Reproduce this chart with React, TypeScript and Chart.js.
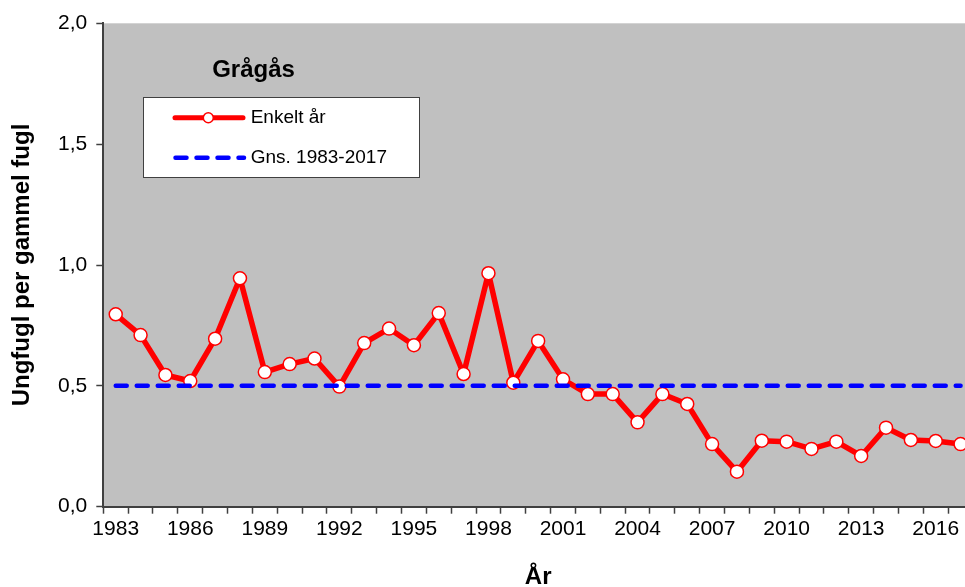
import { useEffect, useRef } from "react";
import { Chart, registerables } from "chart.js";

Chart.register(...registerables);

const years = [
  "1983", "1984", "1985", "1986", "1987", "1988", "1989", "1990", "1991", "1992",
  "1993", "1994", "1995", "1996", "1997", "1998", "1999", "2000", "2001", "2002",
  "2003", "2004", "2005", "2006", "2007", "2008", "2009", "2010", "2011", "2012",
  "2013", "2014", "2015", "2016", "2017",
];

const enkeltAar = [
  0.796, 0.71, 0.545, 0.52, 0.695, 0.945, 0.557, 0.59, 0.613, 0.497,
  0.677, 0.737, 0.668, 0.801, 0.549, 0.966, 0.513, 0.686, 0.527, 0.466,
  0.466, 0.349, 0.466, 0.425, 0.259, 0.145, 0.273, 0.269, 0.239, 0.269,
  0.21, 0.327, 0.276, 0.272, 0.259,
];

const gjennomsnitt = [
  0.5, 0.5, 0.5, 0.5, 0.5, 0.5, 0.5, 0.5, 0.5, 0.5,
  0.5, 0.5, 0.5, 0.5, 0.5, 0.5, 0.5, 0.5, 0.5, 0.5,
  0.5, 0.5, 0.5, 0.5, 0.5, 0.5, 0.5, 0.5, 0.5, 0.5,
  0.5, 0.5, 0.5, 0.5, 0.5,
];

const xTickLabels = [
  "1983", "1986", "1989", "1992", "1995", "1998", "2001", "2004", "2007", "2010", "2013", "2016",
];

const chartTitle = "Grågås";
const seriesNames = ["Enkelt år", "Gns. 1983-2017"];
const xTitle = "År";
const yTitle = "Ungfugl per gammel fugl";

const FONT = '"Liberation Sans", Arial, Helvetica, sans-serif';
const AXIS = "#404040";

export default function App() {
  const ref = useRef<HTMLCanvasElement>(null);

  useEffect(() => {
    const canvas = ref.current;
    if (!canvas) return;

    const overlay = {
      id: "overlay",
      beforeDraw(chart: any) {
        const { ctx, chartArea } = chart;
        ctx.save();
        ctx.fillStyle = "#C0C0C0";
        ctx.fillRect(chartArea.left, chartArea.top, chartArea.right - chartArea.left, chartArea.bottom - chartArea.top);
        ctx.restore();
      },
      afterDraw(chart: any) {
        const { ctx } = chart;
        ctx.save();
        ctx.fillStyle = "#000";
        ctx.font = `bold 24px ${FONT}`;
        ctx.textAlign = "center";
        ctx.textBaseline = "alphabetic";
        ctx.fillText(chartTitle, 253.5, 77.3);

        ctx.fillStyle = "#FFFFFF";
        ctx.fillRect(143.5, 97.5, 276, 80);
        ctx.strokeStyle = AXIS;
        ctx.lineWidth = 1;
        ctx.strokeRect(143.5, 97.5, 276, 80);

        const y1 = 117.7;
        ctx.strokeStyle = "#FF0000";
        ctx.lineWidth = 5;
        ctx.lineCap = "round";
        ctx.beginPath();
        ctx.moveTo(175, y1);
        ctx.lineTo(243, y1);
        ctx.stroke();
        ctx.beginPath();
        ctx.arc(208.3, y1, 5, 0, Math.PI * 2);
        ctx.fillStyle = "#FFFFFF";
        ctx.fill();
        ctx.lineWidth = 1.5;
        ctx.stroke();

        const y2 = 157.7;
        ctx.strokeStyle = "#0000FF";
        ctx.lineWidth = 4.5;
        ctx.setLineDash([11, 10]);
        ctx.beginPath();
        ctx.moveTo(175.5, y2);
        ctx.lineTo(244, y2);
        ctx.stroke();
        ctx.setLineDash([]);

        ctx.fillStyle = "#000";
        ctx.font = `19px ${FONT}`;
        ctx.textAlign = "left";
        ctx.textBaseline = "middle";
        ctx.fillText(seriesNames[0], 250.7, y1);
        ctx.fillText(seriesNames[1], 250.7, y2);
        ctx.restore();
      },
    };

    const chart = new Chart(canvas, {
      type: "line",
      data: {
        labels: years,
        datasets: [
          {
            label: seriesNames[1],
            data: gjennomsnitt,
            borderColor: "#0000FF",
            borderWidth: 4.5,
            borderDash: [11, 10],
            borderCapStyle: "round",
            pointRadius: 0,
            pointHoverRadius: 0,
            fill: false,
            order: 0,
          },
          {
            label: seriesNames[0],
            data: enkeltAar,
            borderColor: "#FF0000",
            borderWidth: 5.5,
            borderJoinStyle: "round",
            pointRadius: 6.5,
            pointBorderWidth: 1.5,
            pointBackgroundColor: "#FFFFFF",
            pointBorderColor: "#FF0000",
            tension: 0,
            fill: false,
            order: 1,
          },
        ],
      },
      options: {
        animation: false,
        responsive: false,
        maintainAspectRatio: false,
        devicePixelRatio: 1,
        layout: { padding: { top: 23.3, left: 0, right: 0, bottom: 0 } },
        plugins: {
          legend: { display: false },
          tooltip: { enabled: false },
          title: { display: false },
        },
        scales: {
          x: {
            type: "category",
            offset: true,
            grid: {
              offset: true,
              drawOnChartArea: false,
              drawTicks: true,
              tickLength: 7,
              tickColor: AXIS,
              tickWidth: 1.5,
            },
            border: { display: true, color: AXIS, width: 2 },
            ticks: {
              autoSkip: false,
              maxRotation: 0,
              minRotation: 0,
              padding: 2.5,
              color: "#000",
              font: { family: FONT, size: 21 },
              callback: (_v: any, index: number) => {
                const l = years[index];
                return xTickLabels.includes(l) ? l : "";
              },
            },
            title: {
              display: true,
              text: xTitle,
              color: "#000",
              font: { family: FONT, size: 24, weight: "bold", lineHeight: 0.84 },
              padding: 0,
            },
            afterFit: (scale: any) => {
              scale.height = 80.3;
            },
          },
          y: {
            min: 0,
            max: 2,
            ticks: {
              stepSize: 0.5,
              padding: 9,
              color: "#000",
              font: { family: FONT, size: 21 },
              callback: (v: any) => Number(v).toFixed(1).replace(".", ","),
            },
            grid: {
              drawOnChartArea: false,
              drawTicks: true,
              tickLength: 7,
              tickColor: AXIS,
              tickWidth: 1.5,
            },
            border: { display: true, color: AXIS, width: 2 },
            title: {
              display: true,
              text: yTitle,
              color: "#000",
              font: { family: FONT, size: 24, weight: "bold", lineHeight: 1 },
              padding: { top: 10, bottom: 0 },
            },
            afterFit: (scale: any) => {
              scale.width = 103.3;
            },
          },
        },
      },
      plugins: [overlay],
    } as any);

    return () => chart.destroy();
  }, []);

  return (
    <div
      style={{
        position: "fixed",
        left: 0,
        top: 0,
        width: 965,
        height: 587,
        overflow: "hidden",
        background: "#FFFFFF",
      }}
    >
      <canvas ref={ref} width={981} height={587} style={{ display: "block", width: 981, height: 587 }} />
    </div>
  );
}
